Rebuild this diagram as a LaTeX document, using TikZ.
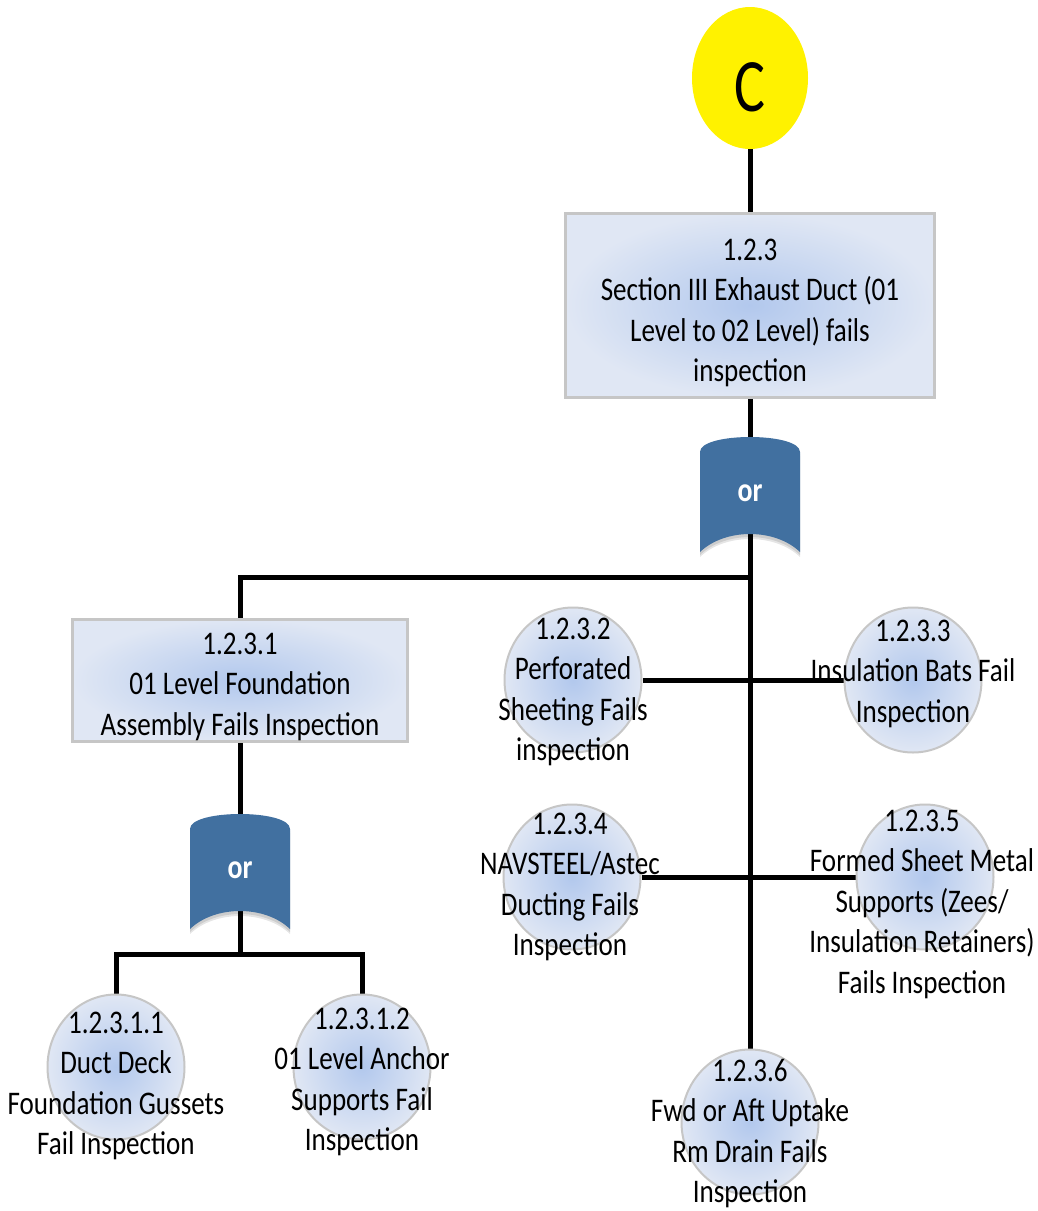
\documentclass[tikz,border=0pt]{standalone}
\usepackage{fontspec}
\setmainfont{Carlito}
% tall, narrow setting of the label face
\newfontfamily\lblfont{Carlito}[FakeStretch=0.82]
\usetikzlibrary{shapes.geometric,backgrounds}
\definecolor{gatecol}{RGB}{65,112,160}
\definecolor{shin}{RGB}{178,200,237}
\definecolor{shout}{RGB}{224,231,244}
\definecolor{rim}{RGB}{198,198,198}
\tikzset{
  wire/.style={line width=5pt, black},
  fbox/.style={rectangle, draw=rim, line width=3pt, inner color=shin, outer color=shout, inner sep=0},
  evt/.style={ellipse, draw=rim, line width=2pt, minimum width=137pt, minimum height=145pt,
              inner color=shin, outer color=shout, inner sep=0},
  txt/.style={align=center, inner sep=0, anchor=north, font=\lblfont\fontsize{33}{40.5}\selectfont},
  gatetxt/.style={text=white, inner sep=0, font=\lblfont\fontsize{34}{36}\selectfont\bfseries},
  pics/orgate/.style={code={
    % soft shadow under the concave base
    \fill[black, opacity=.10] (-50,-37) -- (-50,64) .. controls (-25,40) and (25,40) .. (50,64) -- (50,-37) -- cycle;
    \fill[black, opacity=.10] (-50,-39) -- (-50,62) .. controls (-25,38) and (25,38) .. (50,62) -- (50,-39) -- cycle;
    % gate body
    \fill[gatecol] (-50,-41) .. controls (-50,-61) and (50,-61) .. (50,-41)
      -- (50,59) .. controls (25,35) and (-25,35) .. (-50,59) -- cycle;
    \node[gatetxt] (-n) at (0,0) {or};
  }}
}
\begin{document}
\begin{tikzpicture}[x=1pt,y=-1pt]
\useasboundingbox (0,0) rectangle (1038,1211);

% top event marker
\node[ellipse, fill=yellow, minimum width=116pt, minimum height=142pt, inner sep=0] (c) at (750,78) {};
\node[inner sep=0, font=\fontsize{58}{60}\selectfont] (c-t) at (750,87) {\scalebox{1}[1.3]{C}};

% boxes
\node[fbox, minimum width=369pt, minimum height=184pt] (b0) at (750,305) {};
\node[txt] (b0-t) at (750,238.5) {1.2.3\\Section III Exhaust Duct (01\\Level to 02 Level) fails\\inspection};

\node[fbox, minimum width=335pt, minimum height=122pt] (b1) at (240,680) {};
\node[txt] (b1-t) at (240,632.5) {1.2.3.1\\01 Level Foundation\\Assembly Fails Inspection};

% gates
\pic (g1) at (750,493) {orgate};
\pic (g2) at (240,870) {orgate};

% basic events
\node[evt] (e2) at (573,680) {};
\node[txt] (e2-t) at (573,617.5) {1.2.3.2\\Perforated\\Sheeting Fails\\inspection};

\node[evt] (e3) at (913,680) {};
\node[txt] (e3-t) at (913,619.5) {1.2.3.3\\Insulation Bats Fail\\Inspection};

\node[evt] (e4) at (572,877) {};
\node[txt] (e4-t) at (570,812.5) {1.2.3.4\\NAVSTEEL/Astec\\Ducting Fails\\Inspection};

\node[evt] (e5) at (925,877) {};
\node[txt] (e5-t) at (922,809.5) {1.2.3.5\\Formed Sheet Metal\\Supports (Zees/\\Insulation Retainers)\\Fails Inspection};

\node[evt] (e6) at (750,1122) {};
\node[txt] (e6-t) at (750,1058.5) {1.2.3.6\\Fwd or Aft Uptake\\Rm Drain Fails\\Inspection};

\node[evt] (e11) at (116,1067) {};
\node[txt] (e11-t) at (116,1011.5) {1.2.3.1.1\\Duct Deck\\Foundation Gussets\\Fail Inspection};

\node[evt] (e12) at (362,1067) {};
\node[txt] (e12-t) at (362,1007.5) {1.2.3.1.2\\01 Level Anchor\\Supports Fail\\Inspection};

% connectors, drawn behind the shapes
\begin{scope}[on background layer]
  \fill[white] (0,0) rectangle (1038,1211);
  \draw[wire] (c) -- (b0);
  \draw[wire] (b0) -- (g1-n.center);
  \draw[wire] (g1-n.center) -- (e6.north);
  \draw[wire] (g1-n.center) -- ++(0,84) -| (b1.north);
  \draw[wire] (e2) -- (e3);
  \draw[wire] (e4) -- (e5);
  \draw[wire] (b1) -- (g2-n.center);
  \draw[wire] (g2-n.center) -- ++(0,84) -| (e11.north);
  \draw[wire] (g2-n.center) -- ++(0,84) -| (e12.north);
\end{scope}
\end{tikzpicture}
\end{document}
